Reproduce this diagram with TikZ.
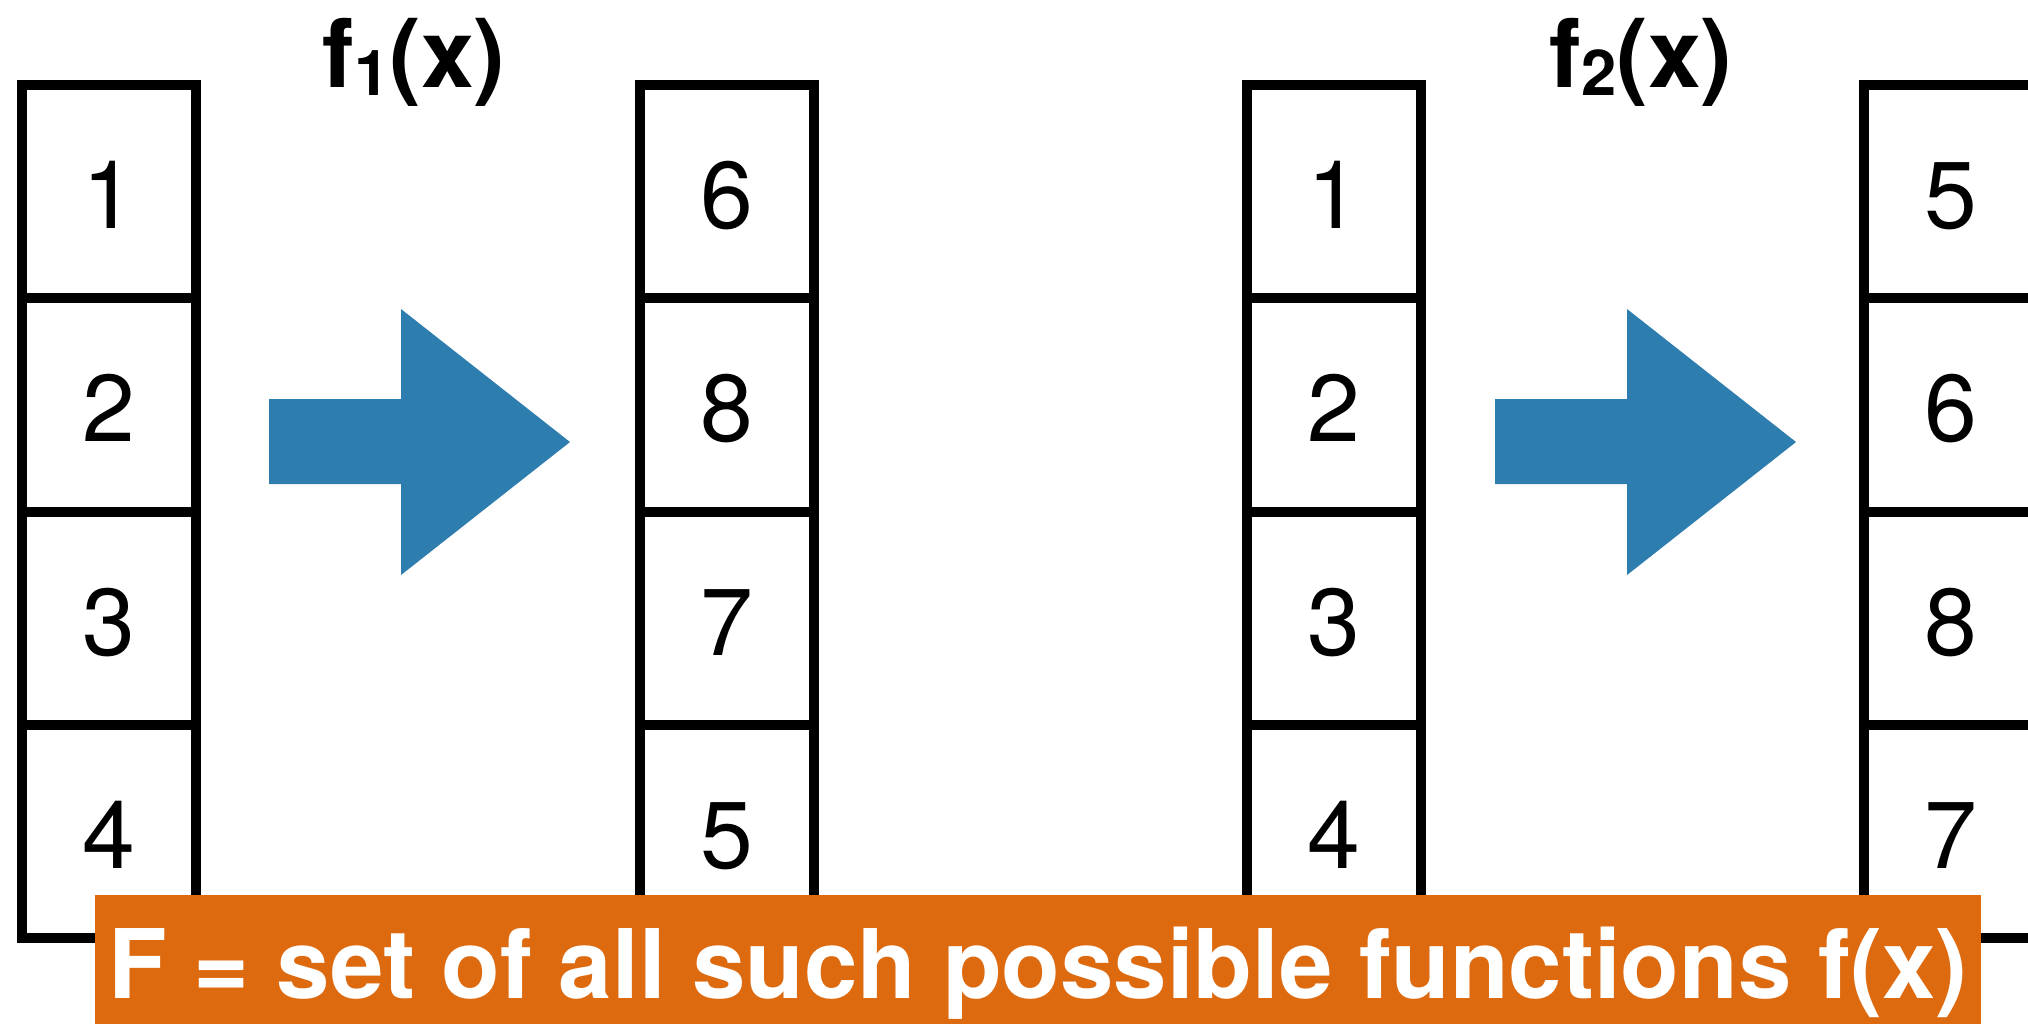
\documentclass[tikz,border=0pt]{standalone}
\usepackage{fontspec}
\setmainfont{TeX Gyre Heros}
\usepackage{tikz}
\usetikzlibrary{positioning}
\definecolor{arrblue}{HTML}{2E7DAF}
\definecolor{bandorange}{HTML}{DE6A10}

\begin{document}
\begin{tikzpicture}[
  x=0.01cm, y=-0.01cm,
  cell/.style={draw, line width=0.1cm, minimum width=1.73cm, minimum height=2.133cm,
               text height=0.74cm, text depth=0cm,
               inner sep=0pt, outer sep=0pt, font=\fontsize{27}{27}\selectfont},
  fxlabel/.style={anchor=base, inner sep=0pt, font=\bfseries\fontsize{27}{27}\selectfont},
  band/.style={fill=bandorange, text=white, minimum width=18.84cm, minimum height=1.3cm,
               text height=0.96cm, text depth=0.2cm, inner sep=0pt,
               font=\bfseries\fontsize{27.3}{27.3}\selectfont}]
  \useasboundingbox (0,0) rectangle (2028,1023);
  \clip (0,0) rectangle (2028,1023);
  % the four columns of values
  \foreach \col/\cx/\vals in {a/109/{1,2,3,4}, b/727/{6,8,7,5}, c/1334/{1,2,3,4}, d/1951/{5,6,8,7}} {
    \foreach \v [count=\r] in \vals
      \node[cell] (\col\r) at (\cx, {191.6+213.3*(\r-1)}) {\v};
  }
  % block arrows
  \foreach \ax in {269,1495}
    \fill[arrblue] (\ax,399) -- ++(132,0) -- ++(0,-90) -- ++(169,133) -- ++(-169,133)
      -- ++(0,-91) -- ++(-132,0) -- cycle;
  \node[fxlabel] (f1) at (414,87) {f\raisebox{-2.3pt}{\fontsize{18}{18}\selectfont 1}(x)};
  \node[fxlabel] (f2) at (1641,87) {f\raisebox{-2.3pt}{\fontsize{18}{18}\selectfont 2}(x)};
  \node[band] (all) at (1038,960) {F = set of all such possible functions f(x)};
\end{tikzpicture}
\end{document}
